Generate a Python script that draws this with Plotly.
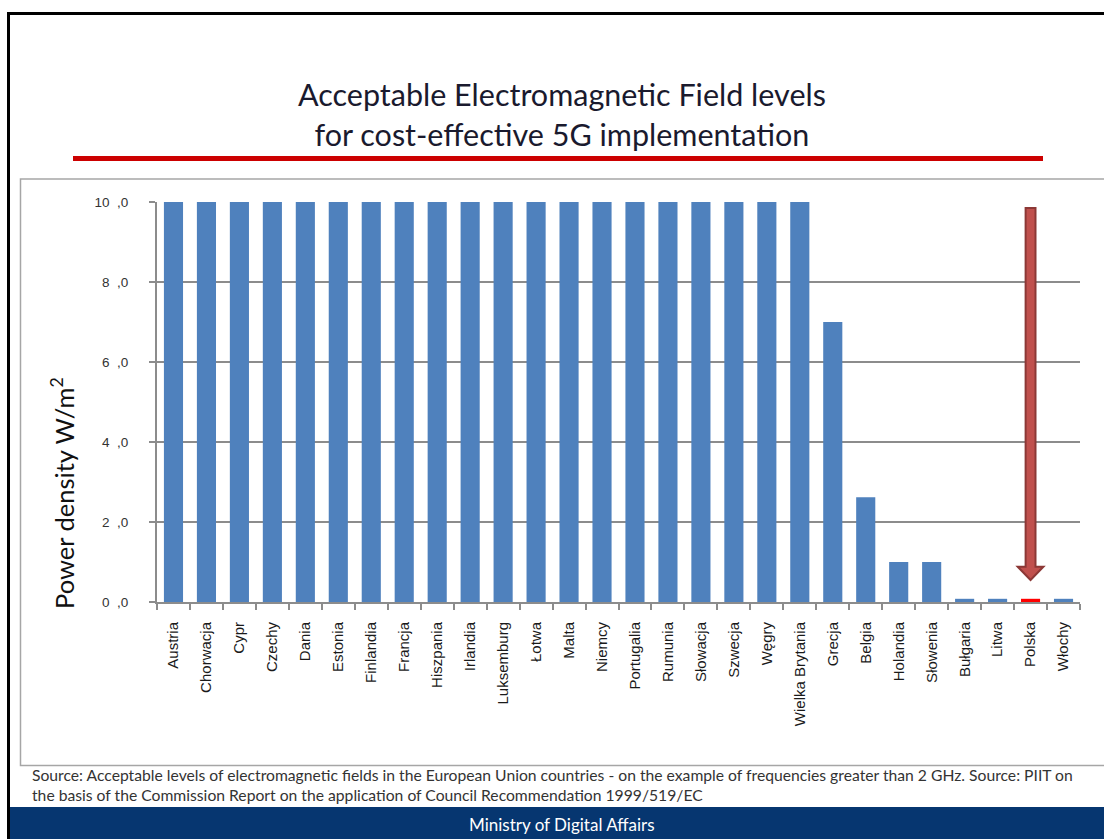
import plotly.graph_objects as go

countries = ["Austria", "Chorwacja", "Cypr", "Czechy", "Dania", "Estonia", "Finlandia",
             "Francja", "Hiszpania", "Irlandia", "Luksemburg", "Łotwa", "Malta", "Niemcy",
             "Portugalia", "Rumunia", "Słowacja", "Szwecja", "Węgry", "Wielka Brytania",
             "Grecja", "Belgia", "Holandia", "Słowenia", "Bułgaria", "Litwa", "Polska", "Włochy"]
values = [10, 10, 10, 10, 10, 10, 10, 10, 10, 10, 10, 10, 10, 10, 10, 10, 10, 10, 10, 10,
          7.0, 2.62, 1.0, 1.0, 0.08, 0.08, 0.08, 0.08]
highlight = "Polska"
ytick_vals = [0, 2, 4, 6, 8, 10]
ytick_text = ["0\u00a0\u00a0,0", "2\u00a0\u00a0,0", "4\u00a0\u00a0,0", "6\u00a0\u00a0,0",
              "8\u00a0\u00a0,0", "10\u00a0\u00a0,0"]

W, H = 1104, 839
PL, PR, PT, PB = 157, 1080, 202, 602


def px(x):
    return (x - PL) / (PR - PL)


def py(y):
    return (PB - y) / (PB - PT)


BLUE = "#4F81BD"
colors = ["#FF0000" if c == highlight else BLUE for c in countries]

fig = go.Figure(go.Bar(x=countries, y=values, marker=dict(color=colors, line=dict(width=0)),
                       width=0.58, hoverinfo="x+y"))

shapes = []
# slide black border
shapes.append(dict(type="rect", xref="paper", yref="paper", x0=px(7), x1=px(1110), y0=py(15), y1=py(12),
                   fillcolor="black", line=dict(width=0), layer="below"))
shapes.append(dict(type="rect", xref="paper", yref="paper", x0=px(7), x1=px(10), y0=py(845), y1=py(12),
                   fillcolor="black", line=dict(width=0), layer="below"))
# red rule under the title
shapes.append(dict(type="rect", xref="paper", yref="paper", x0=px(73), x1=px(1043), y0=py(161), y1=py(156),
                   fillcolor="#CC0000", line=dict(width=0), layer="below"))
# chart frame
shapes.append(dict(type="rect", xref="paper", yref="paper", x0=px(20.5), x1=px(1115), y0=py(765.5), y1=py(179),
                   fillcolor="rgba(0,0,0,0)", line=dict(color="#A6A6A6", width=1.5), layer="below"))
# footer band
shapes.append(dict(type="rect", xref="paper", yref="paper", x0=px(10), x1=px(1110), y0=py(845), y1=py(807),
                   fillcolor="#063670", line=dict(width=0), layer="below"))

# arrow pointing to Polska
ix = countries.index(highlight)
sw, hw = 0.15, 0.39
y_top, y_head, y_tip = 9.85, 0.88, 0.55
path = (f"M {ix - sw},{y_top} L {ix + sw},{y_top} L {ix + sw},{y_head} L {ix + hw},{y_head} "
        f"L {ix},{y_tip} L {ix - hw},{y_head} L {ix - sw},{y_head} Z")
shapes.append(dict(type="path", xref="x", yref="y", path=path, fillcolor="#C0504D",
                   line=dict(color="#8C3836", width=2), layer="above"))

annotations = [
    dict(text="Acceptable Electromagnetic Field levels<br>for cost-effective 5G implementation",
         xref="paper", yref="paper", x=px(562), y=py(114), xanchor="center", yanchor="middle",
         showarrow=False, align="center", font=dict(family="Lato", size=30.5, color="#1a1a2e")),
    dict(text="Power density W/m<sup>2</sup>", xref="paper", yref="paper", x=px(62), y=py(493),
         xanchor="center", yanchor="middle", textangle=-90, showarrow=False,
         font=dict(family="Lato", size=25.5, color="#111111")),
    dict(text="Source: Acceptable levels of electromagnetic fields in the European Union countries - on the example of frequencies greater than 2 GHz. Source: PIIT on<br>the basis of the Commission Report on the application of Council Recommendation 1999/519/EC",
         xref="paper", yref="paper", x=px(30), y=py(785), xanchor="left", yanchor="middle",
         showarrow=False, align="left", font=dict(family="Lato", size=15.7, color="#333333")),
    dict(text="Ministry of Digital Affairs", xref="paper", yref="paper", x=px(562), y=py(824),
         xanchor="center", yanchor="middle", showarrow=False,
         font=dict(family="Lato", size=17, color="white")),
]

fig.update_layout(
    width=W, height=H,
    margin=dict(l=PL, r=W - PR, t=PT, b=H - PB, pad=0),
    paper_bgcolor="white", plot_bgcolor="white",
    showlegend=False, bargap=0.42,
    shapes=shapes, annotations=annotations,
    font=dict(family="Liberation Sans, Arial", size=13, color="#222222"),
)
fig.update_xaxes(type="category", tickson="boundaries", ticks="outside", ticklen=6, tickwidth=2,
                 tickcolor="#8C8C8C", showline=True, linecolor="#8C8C8C", linewidth=2,
                 tickangle=-90, showgrid=False, ticklabelstandoff=12,
                 tickfont=dict(family="Liberation Sans, Arial", size=15, color="#1a1a1a"),
                 range=[-0.5, len(countries) - 0.5])
fig.update_yaxes(range=[0, 10], tickvals=ytick_vals, ticktext=ytick_text, ticks="outside", ticklen=6,
                 tickwidth=2, tickcolor="#8C8C8C", showline=True, linecolor="#8C8C8C", linewidth=2,
                 showgrid=True, gridcolor="#8C8C8C", gridwidth=2, zeroline=False,
                 ticklabelstandoff=18,
                 tickfont=dict(family="Liberation Sans, Arial", size=13.5, color="#333333"))

fig.write_html("out.html")
